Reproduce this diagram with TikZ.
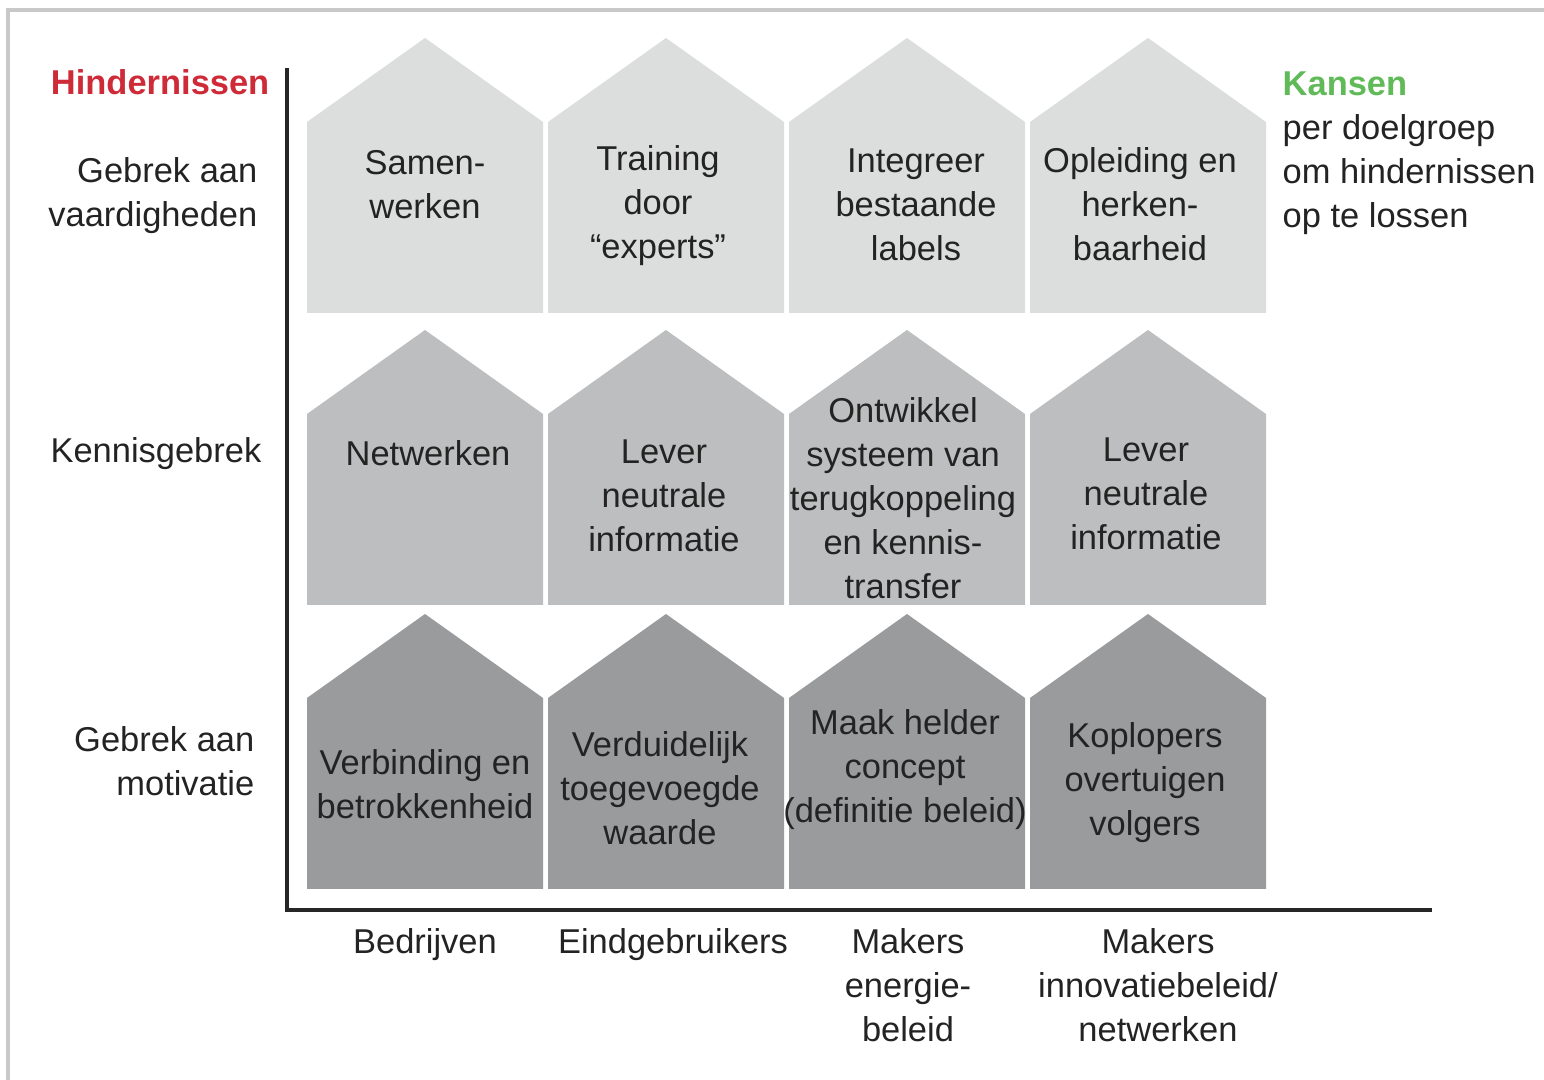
\documentclass[tikz,border=0pt]{standalone}
\usepackage{fontspec}
\setmainfont{Liberation Sans}
\usetikzlibrary{positioning}

\definecolor{dakLicht}{RGB}{220,221,221}
\definecolor{dakMidden}{RGB}{189,190,191}
\definecolor{dakDonker}{RGB}{154,155,157}
\definecolor{hinderRood}{RGB}{206,42,56}
\definecolor{kansGroen}{RGB}{96,186,88}
\definecolor{tekstGrijs}{RGB}{35,35,35}
\definecolor{kaderGrijs}{RGB}{200,200,200}

\tikzset{
 label/.style={align=center, text=tekstGrijs, inner sep=0pt, yshift=-1pt,
  font=\fontsize{9.8}{12.5}\selectfont},
 rij/.style={label, align=right, anchor=east},
 as/.style={draw=black!85, line width=1pt},
}

\begin{document}
\begin{tikzpicture}[x=0.01cm, y=-0.01cm]
 \useasboundingbox (0,0) rectangle (1544,1080);

 % kader
 \draw[kaderGrijs, line width=1.2pt] (8,1080) -- (8,10) -- (1544,10);

 % huisjes per rij
 \foreach \top/\kleur in {38/dakLicht, 330/dakMidden, 614/dakDonker} {
  \foreach \xl in {307, 548, 789, 1030} {
   \fill[\kleur] (\xl,\top+275) -- (\xl,\top+84) -- (\xl+118,\top)
    -- (\xl+236,\top+84) -- (\xl+236,\top+275) -- cycle;
  }
 }

 % assen
 \coordinate (ytop) at (287,68);
 \coordinate (xend) at (1432,910);
 \draw[as] (ytop) |- (xend);

 % Hindernissen
 \node[rij, text=hinderRood, font=\fontsize{9.8}{12.5}\selectfont\bfseries] (hindernissen) at (270,79) {Hindernissen};
 \node[rij] (vaardig) at (258,192) {Gebrek aan\\vaardigheden};
 \node[rij] (kennis) at (262,450) {Kennisgebrek};
 \node[rij] (motivatie) at (255,758) {Gebrek aan\\motivatie};

 % Kansen
 \node[label, align=left, anchor=west] (kansen) at (1282,150)
  {{\color{kansGroen}\bfseries Kansen}\\per doelgroep\\om hindernissen\\op te lossen};

 % bovenste rij
 \node[label] (samen) at (425,181) {Samen-\\werken};
 \node[label] (training) at (658,202) {Training\\door\\“experts”};
 \node[label] (integreer) at (916,201) {Integreer\\bestaande\\labels};
 \node[label] (opleiding) at (1140,201) {Opleiding en\\herken-\\baarheid};

 % middelste rij
 \node[label] (netwerken) at (428,450) {Netwerken};
 \node[label] (lever1) at (664,492) {Lever\\neutrale\\informatie};
 \node[label] (ontwikkel) at (903,495) {Ontwikkel\\systeem van\\terugkoppeling\\en kennis-\\transfer};
 \node[label] (lever2) at (1146,490) {Lever\\neutrale\\informatie};

 % onderste rij
 \node[label] (verbinding) at (425,781) {Verbinding en\\betrokkenheid};
 \node[label] (verduidelijk) at (660,785) {Verduidelijk\\toegevoegde\\waarde};
 \node[label] (helder) at (905,766) {Maak helder\\concept\\(definitie beleid)};
 \node[label] (koplopers) at (1145,779) {Koplopers\\overtuigen\\volgers};

 % doelgroepen
 \node[label] (bedrijven) at (425,941) {Bedrijven};
 \node[label] (eindgebr) at (673,941) {Eindgebruikers};
 \node[label] (energie) at (908,982) {Makers\\energie-\\beleid};
 \node[label] (innovatie) at (1158,982) {Makers\\innovatiebeleid/\\netwerken};
\end{tikzpicture}
\end{document}
